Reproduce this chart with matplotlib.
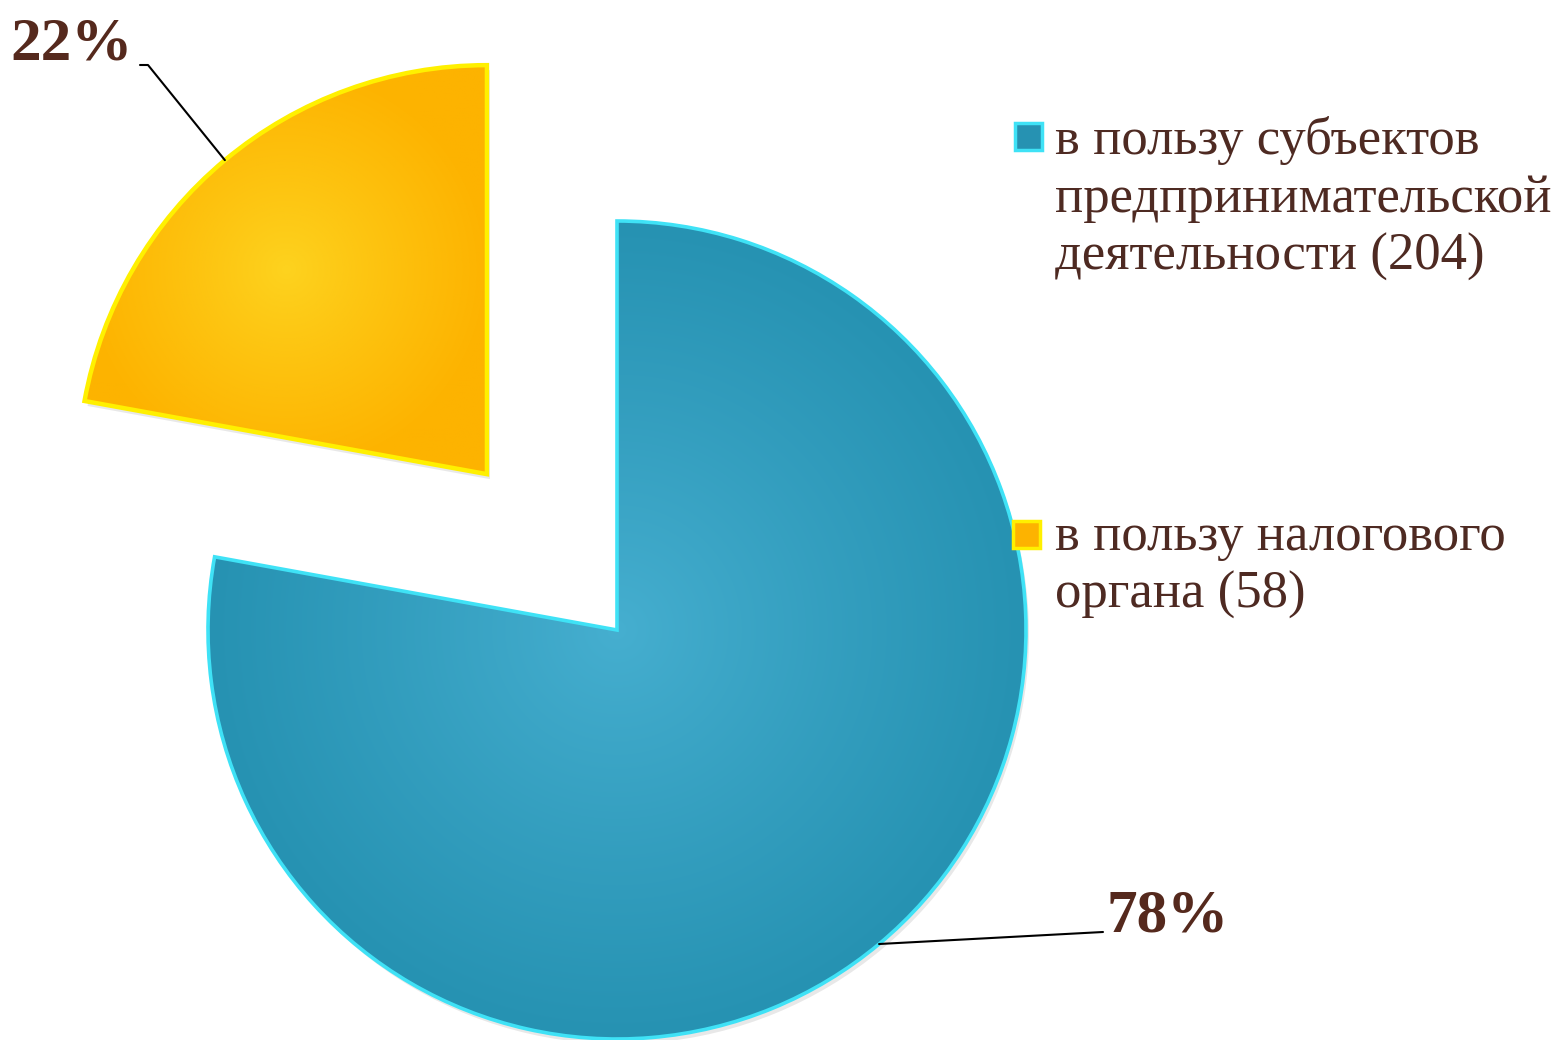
import numpy as np
import matplotlib.pyplot as plt
from matplotlib.patches import Rectangle, Wedge
from matplotlib.colors import to_rgb

# data
labels = ["в пользу субъектов\nпредпринимательской\nдеятельности (204)",
          "в пользу налогового\nоргана (58)"]
counts = [204, 58]
pct_labels = ["78%", "22%"]

# styles
face_in = ["#46afd0", "#fdd31f"]
face_out = ["#2692b2", "#fdb300"]
edge_cols = ["#3fe2f6", "#fff000"]
edge_lw = [2.6, 3.2]
text_col = "#55291d"
legend_col = "#4e2a22"

W, H = 1568, 1040
fig = plt.figure(figsize=(W / 100, H / 100), dpi=100)
ax = fig.add_axes([0, 0, 1, 1])

cx, cy, R = 617, H - 630, 409
wedges, _ = ax.pie(counts, center=(cx, cy), radius=R, startangle=90,
                   counterclock=False, explode=[0, 203],
                   wedgeprops=dict(facecolor="none"))
for w, ec, lw in zip(wedges, edge_cols, edge_lw):
    w.set_edgecolor(ec)
    w.set_linewidth(lw)
    w.set_zorder(3)


def grad_fill(w, c_in, c_out):
    # radial gradient centred on the wedge's bounding box, clipped to it
    ext = w.get_path().get_extents()
    gx, gy = 0.5 * (ext.x0 + ext.x1), 0.5 * (ext.y0 + ext.y1)
    rr = 0.5 * max(ext.width, ext.height)
    yy, xx = np.mgrid[ext.y0:ext.y1:400j, ext.x0:ext.x1:400j]
    d = np.clip(np.hypot(xx - gx, yy - gy) / (1.0 * rr), 0, 1)[..., None]
    d = d ** 0.9
    img = np.array(to_rgb(c_in)) * (1 - d) + np.array(to_rgb(c_out)) * d
    im = ax.imshow(img, extent=(ext.x0, ext.x1, ext.y0, ext.y1),
                   origin="lower", zorder=2, interpolation="bilinear")
    im.set_clip_path(w)


for w, ci, co in zip(wedges, face_in, face_out):
    grad_fill(w, ci, co)
    # soft shadow
    sh = Wedge((w.center[0] + 3, w.center[1] - 5), w.r, w.theta1, w.theta2,
               facecolor="#000000", alpha=0.09, edgecolor="none", zorder=1)
    ax.add_patch(sh)

# percent labels with leader lines
text_pos = [(1107, H - 932), (10, H - 60)]
line_start = [(1103, H - 932), (140, H - 65)]
conn = ["arc3,rad=0", "arc,angleA=0,armA=8,angleB=0,armB=0,rad=0"]
for w, lab, tp, ls, cs in zip(wedges, pct_labels, text_pos, line_start, conn):
    tm = np.deg2rad(0.5 * (w.theta1 + w.theta2))
    px = w.center[0] + w.r * np.cos(tm)
    py = w.center[1] + w.r * np.sin(tm)
    ax.annotate("", xy=(px, py), xytext=ls,
                arrowprops=dict(arrowstyle="-", color="black", lw=1.5,
                                shrinkA=0, shrinkB=0, connectionstyle=cs),
                zorder=4)
    ax.text(tp[0], tp[1], lab, ha="left", va="baseline", fontsize=44,
            fontweight="bold", family="Liberation Serif", color=text_col)

# legend (baseline of the last line of each entry)
leg_y = [H - 270, H - 608]
box_y = [H - 150, H - 548]
box_x = [1015, 1013]
for lab, ly, by, bx, ci, co, ec in zip(labels, leg_y, box_y, box_x,
                                       face_in, face_out, edge_cols):
    ax.add_patch(Rectangle((bx, by), 27, 27, facecolor=co, edgecolor=ec,
                           lw=2.5, zorder=3))
    ax.text(1055, ly, lab, ha="left", va="baseline", fontsize=38,
            family="Liberation Serif", color=legend_col, linespacing=1.27)

ax.set_xlim(0, W)
ax.set_ylim(0, H)
ax.set_aspect("auto")
ax.axis("off")
fig.savefig("out.png", dpi=100)
